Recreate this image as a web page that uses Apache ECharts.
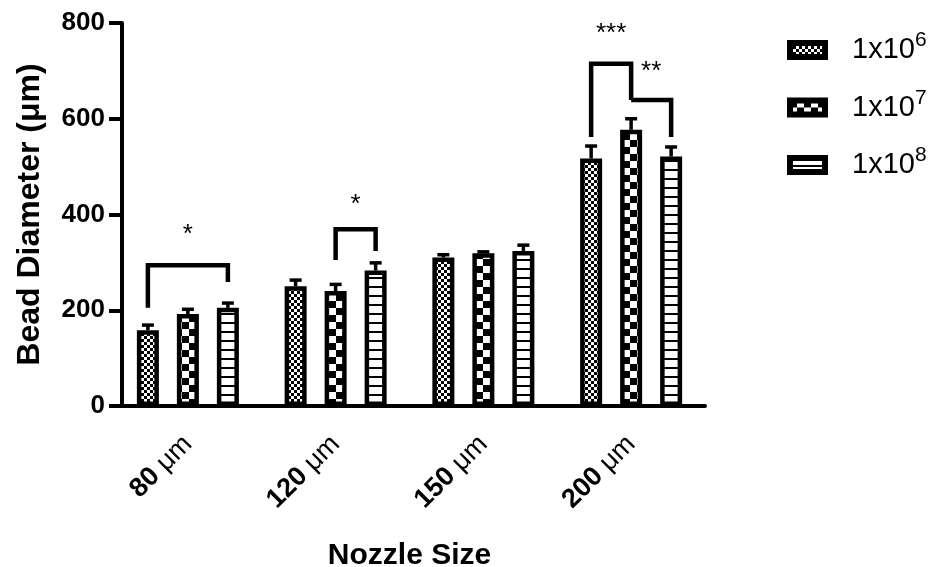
<!DOCTYPE html>
<html><head><meta charset="utf-8">
<script src="https://cdn.jsdelivr.net/npm/echarts@6/dist/echarts.min.js"></script>
<style>html,body{margin:0;padding:0;background:#fff}#c{width:941px;height:567px}</style>
</head><body><div id="c"></div>
<script>
// ---- data ----
const categories = ['80', '120', '150', '200'];
const unitLabel = 'μm';
const seriesNames = ['1x10^6', '1x10^7', '1x10^8'];
const mean1e6 = [158, 250, 310, 517];
const sd1e6 = [11, 13, 6, 26];
const mean1e7 = [192, 240, 319, 577];
const sd1e7 = [10, 14, 3, 23];
const mean1e8 = [205, 283, 324, 521];
const sd1e8 = [10, 16, 12, 20];
const yMin = 0, yMax = 800, yStep = 200;
// significance brackets
const bracketCategory = [0, 1, 3, 3];
const bracketFrom = [0, 1, 0, 1];
const bracketTo = [2, 2, 1, 2];
const bracketTop = [294, 369, 715, 639];
const bracketLeftEnd = [205, 305, 562, 639];
const bracketRightEnd = [259, 324, 639, 562];
const bracketLabel = ['*', '*', '***', '**'];
const bracketLabelValue = [357, 420, 778, 698];

// ---- style ----
const FONT = '"Liberation Sans", Arial, sans-serif';
const BAR_W = 22, BAR_GAP = 18 / 22, BAR_PITCH = BAR_W * (1 + BAR_GAP);
const means = [mean1e6, mean1e7, mean1e8];
const sds = [sd1e6, sd1e7, sd1e8];

function checker(cell) {
  const c = document.createElement('canvas'); c.width = c.height = cell * 2;
  const g = c.getContext('2d');
  g.fillStyle = '#fff'; g.fillRect(0, 0, cell * 2, cell * 2);
  g.fillStyle = '#000'; g.fillRect(0, 0, cell, cell); g.fillRect(cell, cell, cell, cell);
  return c;
}
function stripes(gap, w) {
  const c = document.createElement('canvas'); c.width = 4; c.height = gap;
  const g = c.getContext('2d');
  g.fillStyle = '#fff'; g.fillRect(0, 0, 4, gap);
  g.fillStyle = '#000'; g.fillRect(0, gap - w, 4, w);
  return c;
}
const patterns = [checker(3), checker(7), stripes(9, 2)];

const chart = echarts.init(document.getElementById('c'), null, {renderer: 'canvas'});

const series = [];
seriesNames.forEach((name, s) => {
  series.push({
    name, type: 'bar', data: means[s], barWidth: BAR_W, barGap: (BAR_GAP * 100) + '%',
    itemStyle: {color: {image: patterns[s], repeat: 'repeat'}, borderColor: '#000', borderWidth: 4.5},
    emphasis: {disabled: true}, z: 3
  });
});
seriesNames.forEach((name, s) => {
  series.push({
    type: 'custom', z: 2, silent: true,
    data: categories.map((c, i) => [i, means[s][i], sds[s][i]]),
    renderItem: (params, api) => {
      const i = api.value(0), m = api.value(1), sd = api.value(2);
      const x = api.coord([i, m])[0] + (s - 1) * BAR_PITCH;
      const y0 = api.coord([i, m])[1], y1 = api.coord([i, m + sd])[1];
      return {type: 'group', children: [
        {type: 'line', shape: {x1: x, y1: y0, x2: x, y2: y1}, style: {stroke: '#000', lineWidth: 3.5}},
        {type: 'line', shape: {x1: x - 6, y1: y1, x2: x + 6, y2: y1}, style: {stroke: '#000', lineWidth: 3.5}}
      ]};
    }
  });
});
series.push({
  type: 'custom', z: 4, silent: true,
  data: bracketCategory.map((c, k) => [c, bracketTop[k], bracketLeftEnd[k], bracketRightEnd[k], bracketFrom[k], bracketTo[k], bracketLabelValue[k], k]),
  renderItem: (params, api) => {
    const i = api.value(0);
    const xc = api.coord([i, 0])[0];
    const x1 = xc + (api.value(4) - 1) * BAR_PITCH, x2 = xc + (api.value(5) - 1) * BAR_PITCH;
    const yT = api.coord([i, api.value(1)])[1];
    const yL = api.coord([i, api.value(2)])[1];
    const yR = api.coord([i, api.value(3)])[1];
    const yLab = api.coord([i, api.value(6)])[1];
    return {type: 'group', children: [
      {type: 'polyline', shape: {points: [[x1, yL], [x1, yT], [x2, yT], [x2, yR]]},
       style: {stroke: '#000', lineWidth: 4.5, fill: null, lineJoin: 'miter', lineCap: 'butt'}},
      {type: 'text', x: (x1 + x2) / 2, y: yLab,
       style: {text: bracketLabel[api.value(7)], font: '26px ' + FONT, fill: '#000', align: 'center', verticalAlign: 'middle'}}
    ]};
  }
});

chart.setOption({
  animation: false,
  backgroundColor: '#fff',
  grid: {left: 114, right: 236, top: 23, bottom: 161, containLabel: false, outerBoundsMode: 'none'},
  legend: {
    orient: 'vertical', left: 782, top: 25, itemWidth: 35, itemHeight: 14, itemGap: 23, icon: 'rect',
    data: seriesNames, selectedMode: false,
    itemStyle: {borderColor: '#000', borderWidth: 6},
    formatter: n => { const p = n.split('^'); return '{b|' + p[0] + '}{s|' + p[1] + '}'; },
    textStyle: {padding: [0, 0, 0, 22], rich: {
      b: {fontSize: 29, fontFamily: FONT, color: '#000', lineHeight: 40},
      s: {fontSize: 21, fontFamily: FONT, color: '#000', lineHeight: 20, verticalAlign: 'top'}
    }}
  },
  xAxis: {
    type: 'category', data: categories, boundaryGap: true,
    name: 'Nozzle Size', nameLocation: 'middle', nameGap: 135,
    nameTextStyle: {fontSize: 30, fontWeight: 'bold', fontFamily: FONT, color: '#000'},
    axisLine: {lineStyle: {color: '#000', width: 4}},
    axisTick: {alignWithLabel: true, length: 10, lineStyle: {color: '#000', width: 3.5}},
    axisLabel: {
      rotate: 45, margin: 34, interval: 0,
      formatter: v => '{b|' + v + '}{m| ' + unitLabel + '}',
      rich: {
        b: {fontSize: 27, fontWeight: 'bold', fontFamily: FONT, color: '#000'},
        m: {fontSize: 27, fontFamily: FONT, color: '#000'}
      }
    }
  },
  yAxis: {
    type: 'value', min: yMin, max: yMax, interval: yStep, offset: -8,
    name: 'Bead Diameter (μm)', nameLocation: 'middle', nameGap: 76,
    nameTextStyle: {fontSize: 32, fontWeight: 'bold', fontFamily: FONT, color: '#000'},
    axisLine: {show: true, lineStyle: {color: '#000', width: 4}},
    axisTick: {show: true, length: 13, lineStyle: {color: '#000', width: 4}},
    splitLine: {show: false},
    axisLabel: {fontSize: 26, fontWeight: 'bold', fontFamily: FONT, color: '#000', margin: 17}
  },
  series
});
</script></body></html>
